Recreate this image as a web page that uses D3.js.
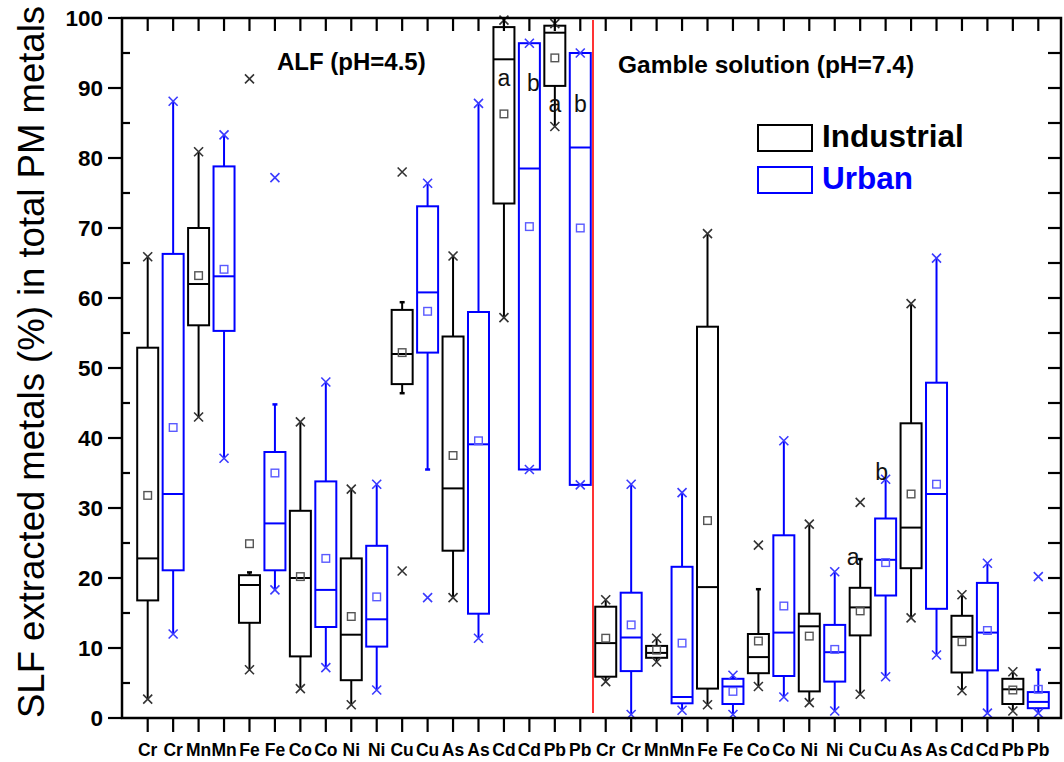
<!DOCTYPE html>
<html>
<head>
<meta charset="utf-8">
<script src="https://cdn.jsdelivr.net/npm/d3@7"></script>
<style>
  html, body { margin: 0; padding: 0; background: #fff; }
  svg { display: block; font-family: "Liberation Sans", Arial, sans-serif; }
</style>
</head>
<body>
<svg id="chart" width="1064" height="762"></svg>
<script>
// ---------------- DATA ----------------
const media = ["ALF (pH=4.5)", "Gamble solution (pH=7.4)"];
const sites = ["Industrial", "Urban"];
const elements = ["Cr", "Mn", "Fe", "Co", "Ni", "Cu", "As", "Cd", "Pb"];
// tick labels: each element twice (Industrial, Urban) for each medium
const tickLabels = ["Cr","Cr","Mn","Mn","Fe","Fe","Co","Co","Ni","Ni","Cu","Cu","As","As","Cd","Cd","Pb","Pb",
                    "Cr","Cr","Mn","Mn","Fe","Fe","Co","Co","Ni","Ni","Cu","Cu","As","As","Cd","Cd","Pb","Pb"];
const siteOf = tickLabels.map((d, i) => sites[i % 2]);

const q1 = [16.8,21.1,56.1,55.3,13.6,21.1,8.8,13.0,5.4,10.2,47.7,52.2,23.9,14.9,73.5,35.5,90.3,33.3,
            5.9,6.7,8.6,2.1,4.2,2.0,6.4,6.0,3.8,5.2,11.8,17.5,21.4,15.6,6.5,6.8,2.0,1.4];
const median = [22.8,32.0,62.0,63.1,19.0,27.8,20.0,18.3,11.9,14.1,52.0,60.8,32.8,39.1,94.1,78.5,97.9,81.5,
            10.7,11.5,9.3,3.0,18.7,4.5,8.7,12.2,13.1,9.4,15.8,22.6,27.2,32.0,11.6,12.2,4.1,2.3];
const q3 = [52.9,66.3,70.0,78.8,20.4,38.0,29.6,33.8,22.8,24.6,58.3,73.1,54.5,58.0,98.7,96.4,98.9,95.0,
            15.9,17.9,10.3,21.6,55.9,5.6,12.0,26.1,14.9,13.3,18.6,28.5,42.1,47.9,14.6,19.3,5.6,3.7];
const mean = [31.8,41.5,63.2,64.1,24.9,35.0,20.2,22.8,14.5,17.3,52.2,58.1,37.5,39.6,86.3,70.2,94.3,70.0,
            11.4,13.3,9.7,10.7,28.2,3.8,11.0,16.0,11.7,9.8,15.3,22.2,32.0,33.4,10.9,12.5,4.0,4.1];
const whiskerLo = [2.7,12.0,43.0,37.1,6.9,18.3,4.2,7.2,1.9,4.0,46.4,35.5,17.2,11.4,57.2,35.5,84.5,33.3,
            5.2,0.5,8.0,1.1,1.9,0.5,4.5,3.0,2.2,1.0,3.4,5.9,14.3,9.0,3.9,0.7,1.0,0.7];
const whiskerHi = [65.9,88.1,80.9,83.3,20.8,44.8,42.3,48.0,32.7,33.4,59.4,76.4,66.0,87.8,99.7,96.4,99.2,95.0,
            16.9,33.4,11.4,32.2,69.2,6.1,18.4,39.6,27.7,20.9,22.7,34.1,59.2,65.7,17.6,22.1,6.6,6.9];
const minVal = [2.7,12.0,43.0,37.1,6.9,18.3,4.2,7.2,1.9,4.0,21.0,17.2,17.2,11.4,57.2,35.5,84.5,33.3,
            5.2,0.5,8.0,1.1,1.9,0.5,4.5,3.0,2.2,1.0,3.4,5.9,14.3,9.0,3.9,0.7,1.0,0.7];
const maxVal = [65.9,88.1,80.9,83.3,91.3,77.2,42.3,48.0,32.7,33.4,78.0,76.4,66.0,87.8,99.7,96.4,99.2,95.0,
            16.9,33.4,11.4,32.2,69.2,6.1,24.7,39.6,27.7,20.9,30.8,34.1,59.2,65.7,17.6,22.1,6.6,20.2];

// significance letters: category index, letter, value (data units)
const letterIdx = [14, 15, 16, 17, 28, 29];
const letterText = ["a", "b", "a", "b", "a", "b"];
const letterVal = [91.4, 90.7, 87.7, 87.7, 23.0, 35.1];

const yTicks = [0,10,20,30,40,50,60,70,80,90,100];
const yTitle = "SLF extracted metals (%) in total PM metals";

// ---------------- LAYOUT ----------------
const svg = d3.select("#chart");
const L = 122, R = 1061, T = 18, B = 718;
const colors = { Industrial: "#000000", Urban: "#0000ff" };
const markColors = { Industrial: "#333333", Urban: "#3a3aff" };
const meanColors = { Industrial: "#555555", Urban: "#5a5aff" };

const idx = d3.range(tickLabels.length);
const x = d3.scalePoint().domain(idx).range([147.7, 1038.3]);
const y = d3.scaleLinear().domain([0, 100]).range([B, T]);

// separator line
const sepX = (x(17) + x(18)) / 2;
svg.append("line").attr("x1", sepX).attr("x2", sepX).attr("y1", T + 2).attr("y2", B - 5)
  .attr("stroke", "#ff0000").attr("stroke-width", 1.6);

// boxes
const boxW = 21;
const g = svg.append("g");
idx.forEach(i => {
  const c = colors[siteOf[i]], cx = x(i);
  const bg = g.append("g");
  // whiskers
  bg.append("line").attr("x1", cx).attr("x2", cx).attr("y1", y(q3[i])).attr("y2", y(whiskerHi[i]))
    .attr("stroke", c).attr("stroke-width", 2);
  bg.append("line").attr("x1", cx).attr("x2", cx).attr("y1", y(q1[i])).attr("y2", y(whiskerLo[i]))
    .attr("stroke", c).attr("stroke-width", 2);
  // caps where whisker ends without a min/max marker
  if (whiskerHi[i] !== maxVal[i]) {
    bg.append("line").attr("x1", cx - 2.5).attr("x2", cx + 2.5).attr("y1", y(whiskerHi[i])).attr("y2", y(whiskerHi[i]))
      .attr("stroke", c).attr("stroke-width", 2.5);
  }
  if (whiskerLo[i] !== minVal[i]) {
    bg.append("line").attr("x1", cx - 2.5).attr("x2", cx + 2.5).attr("y1", y(whiskerLo[i])).attr("y2", y(whiskerLo[i]))
      .attr("stroke", c).attr("stroke-width", 2.5);
  }
  // box
  bg.append("rect").attr("x", cx - boxW / 2).attr("width", boxW)
    .attr("y", y(q3[i])).attr("height", Math.max(0.5, y(q1[i]) - y(q3[i])))
    .attr("fill", "none").attr("stroke", c).attr("stroke-width", 2);
  // median
  bg.append("line").attr("x1", cx - boxW / 2).attr("x2", cx + boxW / 2).attr("y1", y(median[i])).attr("y2", y(median[i]))
    .attr("stroke", c).attr("stroke-width", 2);
  // mean square
  bg.append("rect").attr("x", cx - 3.8).attr("y", y(mean[i]) - 3.8).attr("width", 7.6).attr("height", 7.6)
    .attr("fill", "none").attr("stroke", meanColors[siteOf[i]]).attr("stroke-width", 1.4);
  // min / max markers
  [minVal[i], maxVal[i]].forEach(v => {
    const py = y(v), s = 4.5;
    bg.append("path").attr("d", `M${cx - s},${py - s}L${cx + s},${py + s}M${cx - s},${py + s}L${cx + s},${py - s}`)
      .attr("stroke", markColors[siteOf[i]]).attr("stroke-width", 1.6).attr("fill", "none");
  });
});

// significance letters
const letterDx = [0, 4, 0, 0, -7, -4];
letterIdx.forEach((ci, k) => {
  svg.append("text").attr("x", x(ci) + letterDx[k]).attr("y", y(letterVal[k]))
    .attr("text-anchor", "middle").attr("dominant-baseline", "central")
    .attr("font-size", 23).attr("fill", "#111").text(letterText[k]);
});

// frame
svg.append("rect").attr("x", L).attr("y", T).attr("width", R - L).attr("height", B - T)
  .attr("fill", "none").attr("stroke", "#000").attr("stroke-width", 2.5);

// left axis: major outward with labels, minor inward
const axL = svg.append("g");
yTicks.forEach(v => {
  axL.append("line").attr("x1", L - 14).attr("x2", L).attr("y1", y(v)).attr("y2", y(v))
    .attr("stroke", "#000").attr("stroke-width", 2.2);
  axL.append("text").attr("x", L - 19).attr("y", y(v)).attr("text-anchor", "end")
    .attr("dominant-baseline", "central").attr("font-size", 22.5).attr("font-weight", "bold").text(v);
});
d3.range(5, 100, 10).forEach(v => {
  axL.append("line").attr("x1", L).attr("x2", L + 8).attr("y1", y(v)).attr("y2", y(v))
    .attr("stroke", "#000").attr("stroke-width", 2.2);
});
// right axis: inward ticks every 5
d3.range(5, 100, 5).forEach(v => {
  svg.append("line").attr("x1", R - 13).attr("x2", R).attr("y1", y(v)).attr("y2", y(v))
    .attr("stroke", "#000").attr("stroke-width", 2.2);
});
// bottom axis: outward ticks + labels; top: inward ticks
idx.forEach(i => {
  svg.append("line").attr("x1", x(i)).attr("x2", x(i)).attr("y1", B).attr("y2", B + 14)
    .attr("stroke", "#000").attr("stroke-width", 2.2);
  svg.append("line").attr("x1", x(i)).attr("x2", x(i)).attr("y1", T).attr("y2", T + 13)
    .attr("stroke", "#000").attr("stroke-width", 2.2);
  svg.append("text").attr("x", x(i)).attr("y", 756).attr("text-anchor", "middle")
    .attr("font-size", 17.5).attr("font-weight", "bold").text(tickLabels[i]);
});

// y title
svg.append("text").attr("transform", `translate(44,${(T + B) / 2 - 6}) rotate(-90)`)
  .attr("text-anchor", "middle").attr("font-size", 36.5).text(yTitle);

// medium labels
svg.append("text").attr("x", 277).attr("y", 70).attr("font-size", 24).attr("font-weight", "bold").text(media[0]);
svg.append("text").attr("x", 618).attr("y", 73).attr("font-size", 24.5).attr("font-weight", "bold").text(media[1]);

// legend
const leg = svg.append("g");
sites.forEach((s, k) => {
  const ly = 125 + k * 42;
  leg.append("rect").attr("x", 758).attr("y", ly).attr("width", 54).attr("height", 26)
    .attr("fill", "none").attr("stroke", colors[s]).attr("stroke-width", 2);
  leg.append("text").attr("x", 822).attr("y", ly + 22).attr("font-size", 31.5).attr("font-weight", "bold")
    .attr("fill", colors[s]).text(s);
});
</script>
</body>
</html>
